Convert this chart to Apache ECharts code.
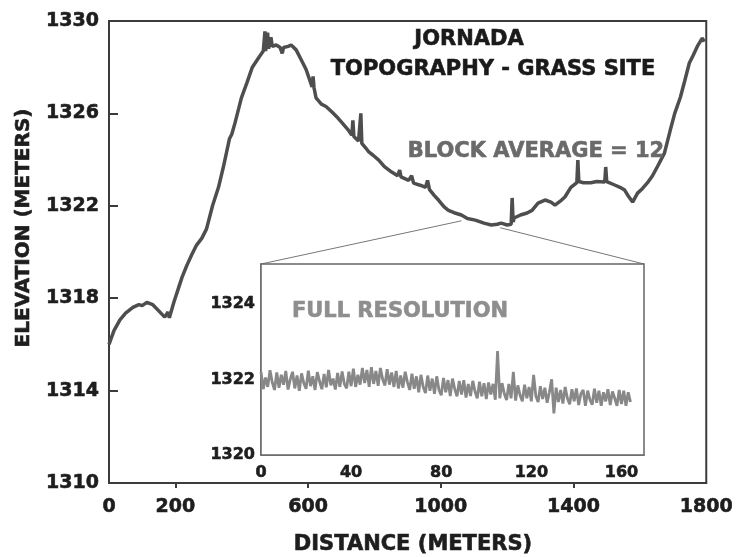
<!DOCTYPE html>
<html>
<head>
<meta charset="utf-8">
<script src="https://cdn.jsdelivr.net/npm/echarts@6/dist/echarts.min.js"></script>
<style>
  html, body { margin: 0; padding: 0; background: #fff; }
  #chart { width: 736px; height: 557px; }
</style>
</head>
<body>
<div id="chart"></div>
<script>
// block averaged profile (distance m, elevation m)
const mainDist = [0, 15, 33, 50, 72, 90, 100, 114, 132, 150, 168, 174, 178, 182, 195, 204, 220, 234, 250, 264,
  280, 294, 312, 330, 345, 363, 370, 380, 399, 415, 432, 453, 465, 470, 472, 478, 481, 488, 492, 504,
  516, 522, 526, 540, 549, 564, 580, 594, 612, 615, 618, 624, 640, 654, 672, 690, 702, 720, 732, 735,
  738, 752, 759, 762, 774, 783, 795, 813, 830, 852, 870, 876, 880, 903, 912, 918, 940, 954, 960, 966,
  980, 993, 1010, 1023, 1040, 1062, 1080, 1104, 1130, 1152, 1170, 1182, 1200, 1212, 1215, 1218, 1221, 1240, 1260, 1275,
  1293, 1314, 1332, 1344, 1360, 1374, 1392, 1410, 1413, 1416, 1430, 1452, 1470, 1494, 1497, 1500, 1524, 1540, 1554, 1566,
  1578, 1593, 1608, 1623, 1638, 1653, 1674, 1692, 1705, 1722, 1735, 1749, 1760, 1773, 1788, 1794];
const mainElev = [1316.0, 1316.6, 1317.06, 1317.35, 1317.6, 1317.72, 1317.68, 1317.82, 1317.72, 1317.45, 1317.18, 1317.22, 1317.4, 1317.15, 1317.8, 1318.2, 1318.9, 1319.4, 1319.9, 1320.3,
  1320.6, 1321.0, 1322.0, 1322.8, 1323.7, 1324.9, 1325.1, 1325.6, 1326.67, 1327.3, 1328.0, 1328.45, 1328.7, 1329.55, 1328.7, 1329.5, 1328.8, 1329.3, 1328.9, 1328.96,
  1328.85, 1328.6, 1328.85, 1328.9, 1328.96, 1328.75, 1328.3, 1327.9, 1327.15, 1327.6, 1327.1, 1326.67, 1326.4, 1326.3, 1326.06, 1325.8, 1325.6, 1325.3, 1325.06, 1325.7,
  1325.0, 1324.8, 1326.0, 1324.7, 1324.5, 1324.33, 1324.2, 1323.98, 1323.7, 1323.46, 1323.3, 1323.55, 1323.25, 1323.1, 1323.3, 1322.98, 1322.88, 1322.8, 1323.1, 1322.7,
  1322.45, 1322.25, 1321.95, 1321.8, 1321.7, 1321.6, 1321.45, 1321.38, 1321.25, 1321.17, 1321.2, 1321.25, 1321.17, 1321.2, 1322.34, 1321.3, 1321.47, 1321.6, 1321.69, 1321.8,
  1322.12, 1322.25, 1322.16, 1322.03, 1322.2, 1322.38, 1322.8, 1323.0, 1323.98, 1323.05, 1323.0, 1323.0, 1323.05, 1323.03, 1323.68, 1323.05, 1322.9, 1322.8, 1322.68, 1322.4,
  1322.16, 1322.55, 1322.75, 1323.0, 1323.3, 1323.7, 1324.28, 1325.3, 1326.0, 1326.7, 1327.4, 1328.18, 1328.5, 1328.9, 1329.26, 1329.1];

// full resolution stretch, one reading per metre from 0
const insetElev = [
  1322.2, 1321.74, 1322.05, 1321.8, 1322.24, 1321.92, 1321.72, 1322.18, 1321.78, 1322.12,
  1321.86, 1322.22, 1321.73, 1322.0, 1322.2, 1321.76, 1322.1, 1321.7, 1322.16, 1321.9,
  1321.75, 1322.23, 1321.82, 1322.08, 1321.72, 1322.19, 1321.95, 1321.74, 1322.14, 1321.79,
  1322.25, 1321.84, 1322.02, 1321.73, 1322.17, 1321.8, 1322.21, 1321.88, 1321.76, 1322.2,
  1321.82, 1322.28, 1321.8, 1322.12, 1321.86, 1322.3, 1321.9, 1322.25, 1321.8, 1322.32,
  1321.88, 1322.22, 1321.83, 1322.3, 1322.0, 1321.84, 1322.27, 1321.86, 1322.18, 1321.8,
  1322.22, 1321.76, 1322.1, 1321.78, 1322.2, 1321.92, 1321.72, 1322.15, 1321.75, 1322.08,
  1321.66, 1322.12, 1321.8, 1321.64, 1322.1, 1321.7, 1322.02, 1321.62, 1322.08, 1321.72,
  1321.58, 1322.04, 1321.66, 1321.98, 1321.56, 1322.02, 1321.74, 1321.55, 1321.96, 1321.6,
  1321.98, 1321.52, 1321.88, 1321.56, 1321.96, 1321.68, 1321.5, 1321.94, 1321.55, 1321.9,
  1321.48, 1321.92, 1321.6, 1321.88, 1321.46, 1322.75, 1321.5, 1321.9, 1321.62, 1321.45,
  1321.88, 1321.5, 1322.2, 1321.44, 1321.84, 1321.58, 1321.42, 1321.86, 1321.5, 1321.8,
  1321.42, 1322.12, 1321.56, 1321.4, 1321.82, 1321.48, 1321.78, 1321.38, 1321.66, 1322.0,
  1321.1, 1321.78, 1321.4, 1321.72, 1321.36, 1321.8, 1321.5, 1321.34, 1321.74, 1321.42,
  1321.76, 1321.32, 1321.62, 1321.72, 1321.3, 1321.7, 1321.46, 1321.33, 1321.75, 1321.38,
  1321.7, 1321.3, 1321.66, 1321.42, 1321.74, 1321.32, 1321.68, 1321.5, 1321.3, 1321.72,
  1321.35, 1321.7, 1321.3, 1321.66, 1321.4];

// ticks / labels
const mainXLabels = [0, 200, 600, 1000, 1400, 1800];
const mainXTicks = [200, 600, 1000, 1400];
const mainYLabels = [1310, 1314, 1318, 1322, 1326, 1330];
const mainYTicks = [1314, 1318, 1322, 1326];
const insetXLabels = [0, 40, 80, 120, 160];
const insetXTicks = [20, 40, 60, 80, 100, 120, 140, 160];
const insetYLabels = [1320, 1322, 1324];
const insetYTicks = [1321, 1322, 1323, 1324];

// stretch of the profile shown at full resolution
const zoomFrom = [1062, 1321.35];
const zoomTo = [1179, 1321.05];

const FONT = '"DejaVu Sans", sans-serif';
const plain = (v) => String(v);

const mainData = mainDist.map((d, i) => [d, mainElev[i]]);
const insetData = insetElev.map((e, i) => [i, e]);

// heavy bold look for the tick labels
function tickText(size) {
  return { fontFamily: FONT, fontWeight: 'bold', fontSize: size, color: '#1e1e1e',
    textBorderColor: '#1e1e1e', textBorderWidth: 0.6, formatter: plain };
}

const chart = echarts.init(document.getElementById('chart'));

const option = {
  backgroundColor: '#fff',
  animation: false,
  grid: [
    { left: 109, top: 21, right: 29, bottom: 74, show: true, borderColor: '#3c3c3c', borderWidth: 2 },
    { left: 261, top: 264, right: 92, bottom: 102, show: true, backgroundColor: '#fff',
      borderColor: '#666', borderWidth: 1.5, z: 5 }
  ],
  xAxis: [
    {
      type: 'value', gridIndex: 0, min: 0, max: 1800,
      axisLine: { lineStyle: { color: '#3c3c3c', width: 2 } },
      axisTick: { show: true, inside: false, length: 5, customValues: mainXTicks,
        lineStyle: { color: '#3c3c3c', width: 2 } },
      axisLabel: Object.assign({ customValues: mainXLabels, margin: 15 }, tickText(19)),
      splitLine: { show: false }
    },
    {
      type: 'value', gridIndex: 1, min: 0, max: 170,
      axisLine: { lineStyle: { color: '#666', width: 1.5 } },
      axisTick: { show: true, inside: true, length: 3, customValues: insetXTicks,
        lineStyle: { color: '#777', width: 1 } },
      axisLabel: Object.assign({ customValues: insetXLabels, margin: 10 }, tickText(16)),
      splitLine: { show: false }
    }
  ],
  yAxis: [
    {
      type: 'value', gridIndex: 0, min: 1310, max: 1330,
      axisLine: { lineStyle: { color: '#3c3c3c', width: 2 } },
      axisTick: { show: true, inside: true, length: 9, customValues: mainYTicks,
        lineStyle: { color: '#3c3c3c', width: 2 } },
      axisLabel: Object.assign({ customValues: mainYLabels, margin: 10 }, tickText(19)),
      splitLine: { show: false }
    },
    {
      type: 'value', gridIndex: 1, min: 1320, max: 1325.05,
      axisLine: { lineStyle: { color: '#666', width: 1.5 } },
      axisTick: { show: true, inside: true, length: 5, customValues: insetYTicks,
        lineStyle: { color: '#777', width: 1 } },
      axisLabel: Object.assign({ customValues: insetYLabels, margin: 6 }, tickText(16)),
      splitLine: { show: false }
    }
  ],
  series: [
    {
      name: 'block average', type: 'line', xAxisIndex: 0, yAxisIndex: 0,
      data: mainData, showSymbol: false, smooth: false,
      lineStyle: { color: '#4e4e4e', width: 3.5 }, z: 3
    },
    {
      name: 'full resolution', type: 'line', xAxisIndex: 1, yAxisIndex: 1,
      data: insetData, showSymbol: false, smooth: false,
      lineStyle: { color: '#888', width: 2.8 }, z: 6
    }
  ]
};
chart.setOption(option);

// labels and zoom connectors, placed from the axes
const p0 = chart.convertToPixel({ gridIndex: 0 }, zoomFrom);
const p1 = chart.convertToPixel({ gridIndex: 0 }, zoomTo);
const c0 = chart.convertToPixel({ gridIndex: 1 }, [0, 1325.05]);
const c1 = chart.convertToPixel({ gridIndex: 1 }, [170, 1325.05]);

function label(text, x, y, size, fill, rot) {
  return {
    type: 'text', x: x, y: y, rotation: rot || 0, z: 10,
    style: { text: text, font: 'bold ' + size + 'px ' + FONT, fill: fill,
      stroke: fill, lineWidth: 0.6, align: 'center', verticalAlign: 'middle' }
  };
}

chart.setOption({
  graphic: [
    { type: 'line', z: 4, shape: { x1: c0[0], y1: c0[1], x2: p0[0], y2: p0[1] },
      style: { stroke: '#777', lineWidth: 1 } },
    { type: 'line', z: 4, shape: { x1: p1[0], y1: p1[1], x2: c1[0], y2: c1[1] },
      style: { stroke: '#777', lineWidth: 1 } },
    label('JORNADA', 469, 40, 21, '#1a1a1a'),
    label('TOPOGRAPHY - GRASS SITE', 493, 70, 21, '#1a1a1a'),
    label('BLOCK AVERAGE = 12', 536, 152, 21, '#6a6a6a'),
    label('FULL RESOLUTION', 400, 312, 21, '#8e8e8e'),
    label('DISTANCE (METERS)', 413, 545, 21, '#1e1e1e'),
    label('ELEVATION (METERS)', 24, 228, 20, '#1e1e1e', Math.PI / 2)
  ]
});
</script>
</body>
</html>
